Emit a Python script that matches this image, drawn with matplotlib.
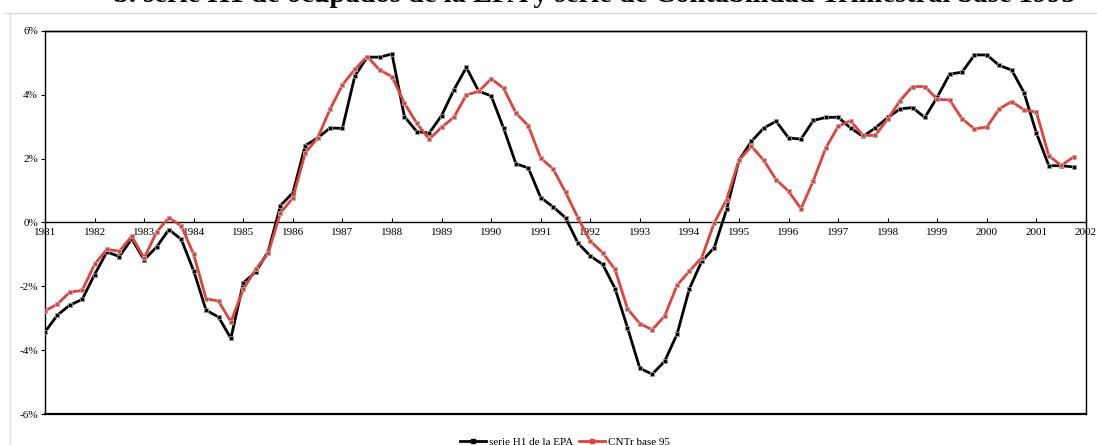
import numpy as np
import matplotlib
matplotlib.use('Agg')
import matplotlib.pyplot as plt
from matplotlib.lines import Line2D

# quarterly growth rates, 1981Q1 - 2001Q4
years = np.arange(1981, 2003)
quarters = 1981 + np.arange(84) / 4.0

epa_h1 = [-3.43, -2.90, -2.59, -2.41,
          -1.63, -0.92, -1.07, -0.51,
          -1.17, -0.77, -0.22, -0.53,
          -1.52, -2.75, -2.96, -3.63,
          -1.89, -1.55, -0.92, 0.53,
          0.93, 2.41, 2.65, 2.96,
          2.95, 4.59, 5.18, 5.18,
          5.28, 3.32, 2.85, 2.80,
          3.35, 4.16, 4.86, 4.11,
          3.97, 2.96, 1.84, 1.71,
          0.78, 0.49, 0.15, -0.64,
          -1.05, -1.31, -2.07, -3.29,
          -4.57, -4.75, -4.35, -3.50,
          -2.07, -1.21, -0.79, 0.41,
          1.95, 2.54, 2.96, 3.17,
          2.65, 2.61, 3.20, 3.29,
          3.30, 2.96, 2.70, 2.96,
          3.29, 3.56, 3.60, 3.29,
          3.93, 4.65, 4.71, 5.25,
          5.25, 4.92, 4.78, 4.07,
          2.80, 1.78, 1.78, 1.74]

cntr_95 = [-2.77, -2.56, -2.18, -2.13,
           -1.31, -0.84, -0.90, -0.43,
           -1.12, -0.30, 0.15, -0.11,
           -1.00, -2.39, -2.46, -3.11,
           -2.09, -1.47, -0.97, 0.30,
           0.77, 2.18, 2.65, 3.55,
           4.31, 4.80, 5.20, 4.78,
           4.57, 3.74, 3.11, 2.61,
           2.98, 3.30, 4.00, 4.11,
           4.50, 4.21, 3.43, 3.03,
           2.02, 1.68, 0.95, 0.15,
           -0.58, -0.95, -1.47, -2.70,
           -3.17, -3.36, -2.93, -1.97,
           -1.52, -1.10, -0.01, 0.72,
           1.95, 2.39, 1.95, 1.34,
           0.98, 0.43, 1.31, 2.33,
           3.01, 3.19, 2.73, 2.73,
           3.24, 3.82, 4.26, 4.26,
           3.86, 3.84, 3.25, 2.93,
           2.99, 3.56, 3.79, 3.53,
           3.46, 2.09, 1.79, 2.05]

yticks = [-6, -4, -2, 0, 2, 4, 6]
title = "b. serie H1 de ocupados de la EPA y serie de Contabilidad Trimestral base 1995"

plt.rcParams['font.family'] = ['Liberation Serif', 'DejaVu Serif']

W, H = 1097, 445
fig = plt.figure(figsize=(W / 100, H / 100), dpi=100)
ax = fig.add_axes([45 / W, 1 - 414 / H, (1086 - 45) / W, (414 - 31) / H])

red = '#e0423c'
ax.plot(quarters, epa_h1, color='black', lw=2, marker='s', ms=2.8,
        mfc='black', mec='#9a9a9a', mew=0.6, zorder=3)
ax.plot(quarters, cntr_95, color=red, lw=2, marker='s', ms=2.8,
        mfc=red, mec='#b0b0b0', mew=0.6, zorder=4)

ax.set_xlim(1981, 2002)
ax.set_ylim(-6, 6)

# x axis sits on the zero line, frame drawn separately
ax.spines['bottom'].set_position(('data', 0))
ax.spines['bottom'].set_zorder(2)
for s in ['left', 'right', 'top', 'bottom']:
    ax.spines[s].set_linewidth(1.0)
ax.axhline(-6, color='black', lw=1.6, clip_on=False)
ax.axhline(6, color='black', lw=1.0, clip_on=False)

ax.set_xticks(years)
ax.set_xticklabels([str(y) for y in years])
ax.tick_params(axis='x', direction='in', length=3, labelsize=8, pad=4)
ax.set_yticks(yticks)
ax.set_yticklabels([f'{v}%' for v in yticks])
ax.tick_params(axis='y', direction='out', length=3, labelsize=8, pad=2)

# title, partly cut off by the image edge as in the source
fig.text(594 / W, 1 - 2 / H, title, ha='center', va='baseline',
         fontsize=20.5, fontweight='bold')

# light gray outer frame
fig.add_artist(Line2D([4 / W, 1], [1 - 13 / H, 1 - 13 / H],
                      transform=fig.transFigure, color='#dddddd', lw=1))
fig.add_artist(Line2D([10 / W, 10 / W], [0, 1 - 13 / H],
                      transform=fig.transFigure, color='#dddddd', lw=1))

handles = [Line2D([], [], color='black', lw=2, marker='s', ms=2.5),
           Line2D([], [], color=red, lw=2, marker='s', ms=2.5)]
fig.legend(handles, ['serie H1 de la EPA', 'CNTr base 95'],
           loc='center', bbox_to_anchor=(565 / W, 1 - 442 / H), ncol=2,
           frameon=False, fontsize=8, handlelength=2.3, handletextpad=0.3,
           columnspacing=0.5)

fig.savefig('out.png', dpi=100)
